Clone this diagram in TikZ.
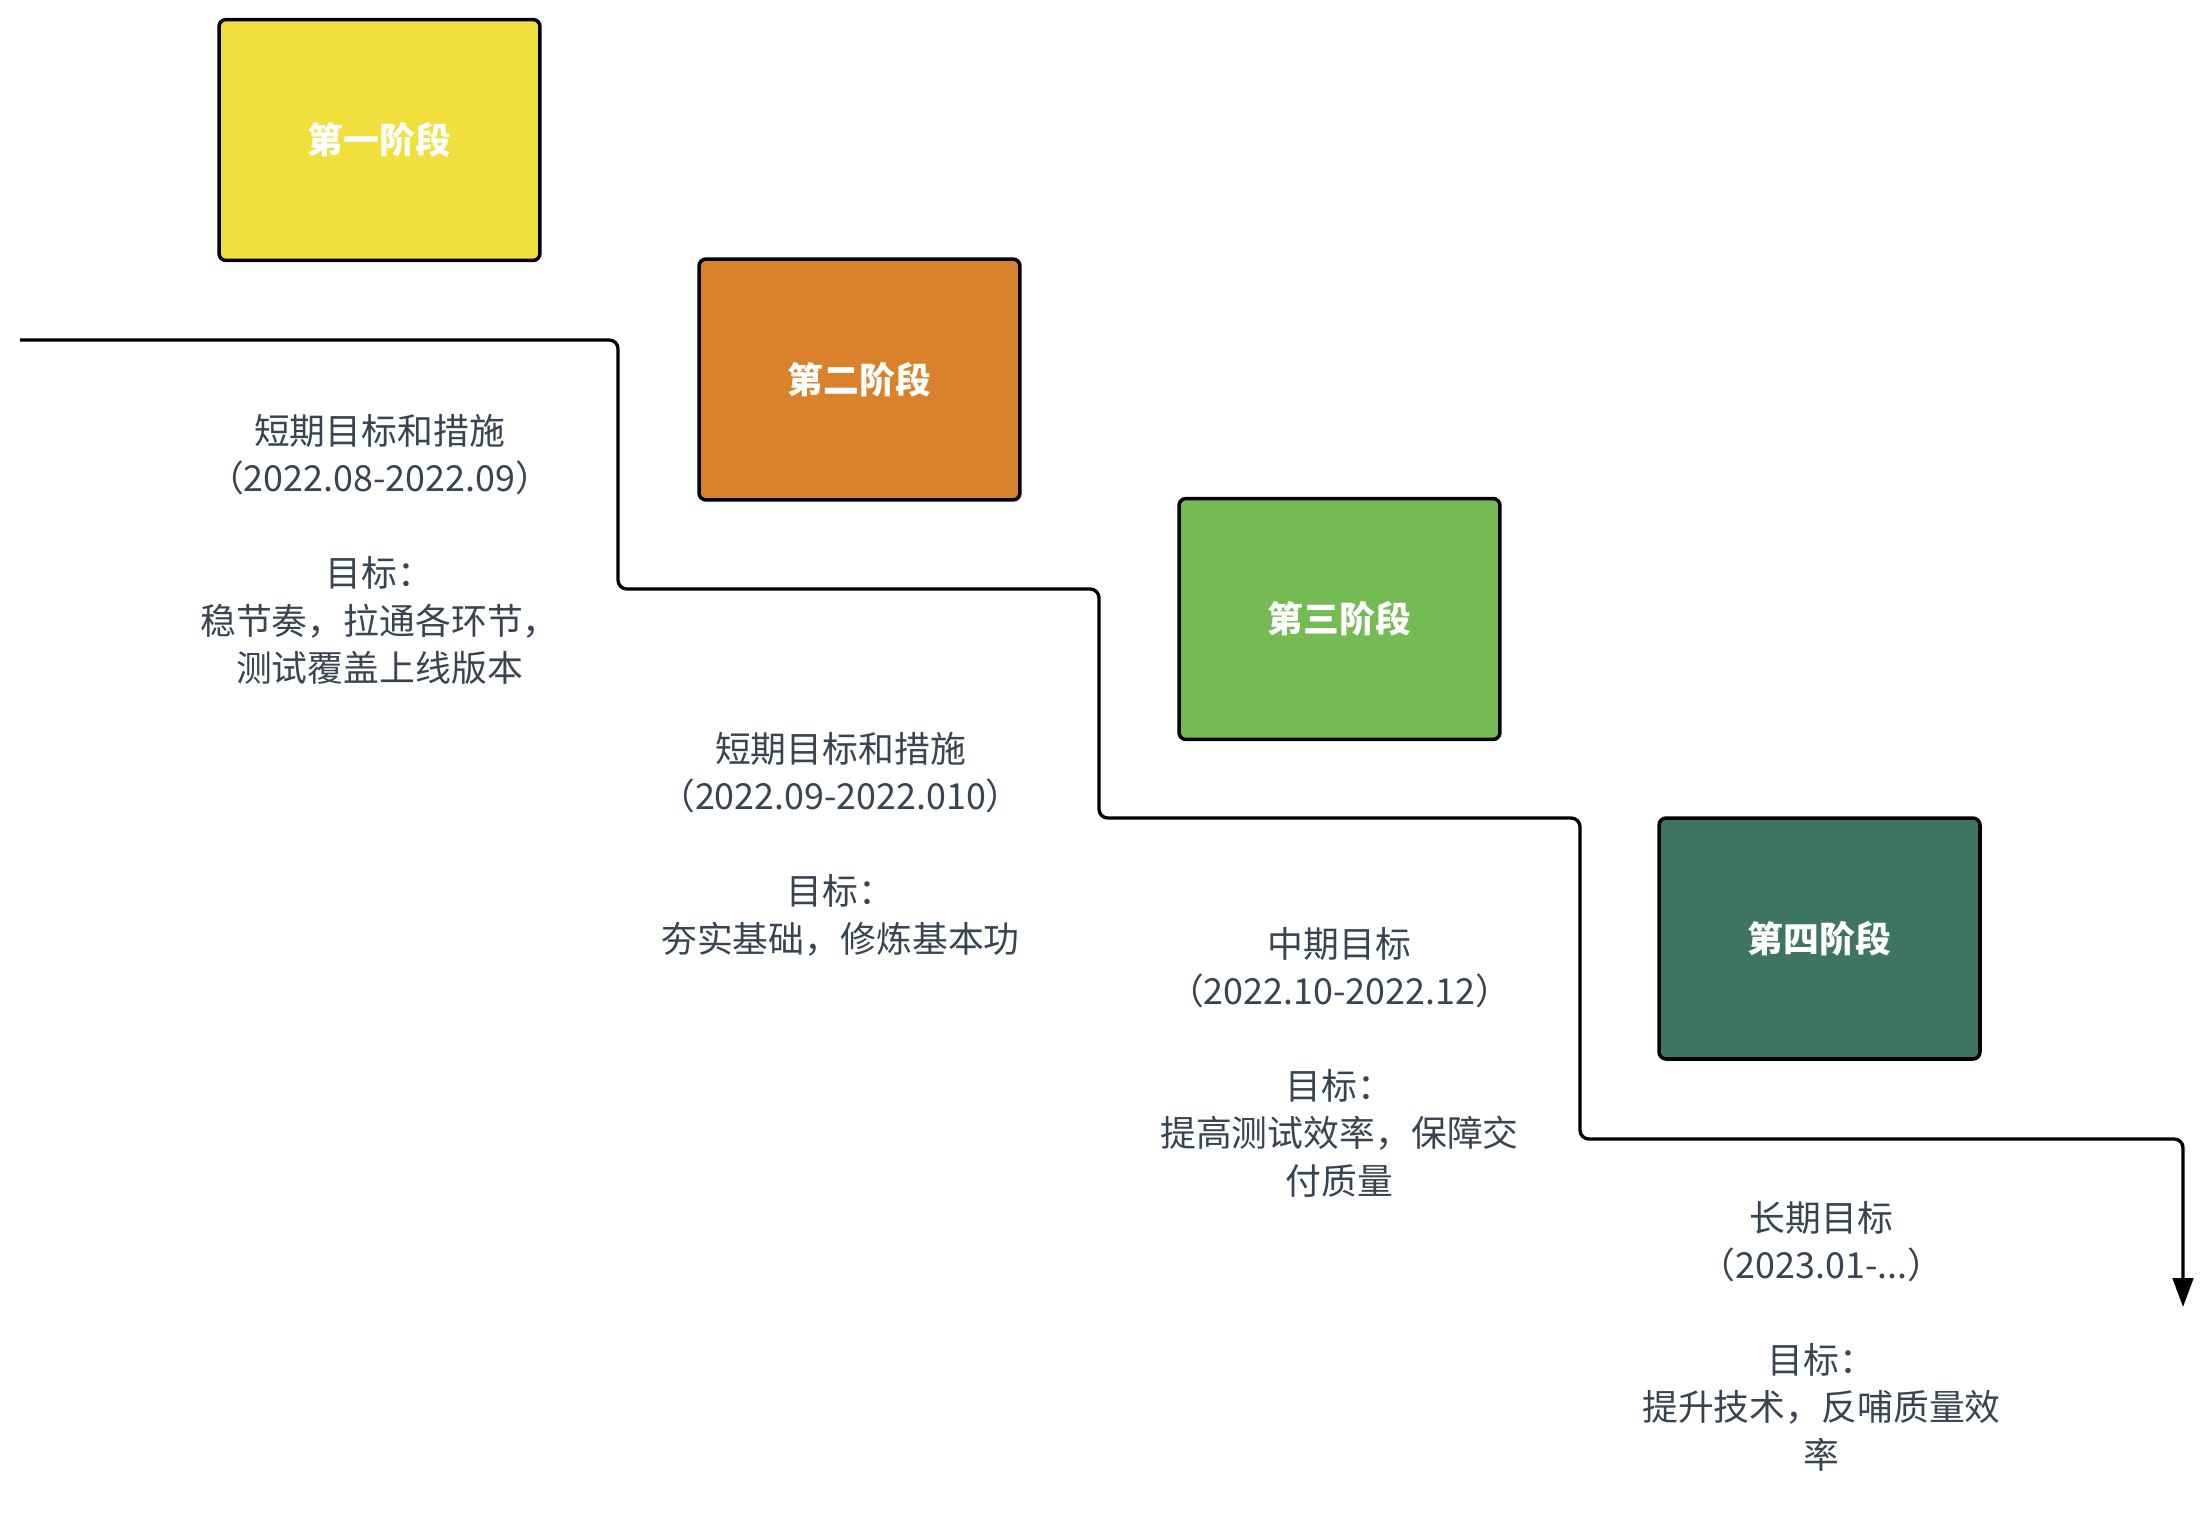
\documentclass[tikz,border=0pt]{standalone}
\usepackage{fontspec}
\setmainfont{Noto Sans CJK SC}
\usetikzlibrary{arrows.meta}

\definecolor{stageone}{HTML}{F1DF3D}
\definecolor{stagetwo}{HTML}{D9822B}
\definecolor{stagethree}{HTML}{73BB52}
\definecolor{stagefour}{HTML}{3E7562}
\definecolor{goaltext}{HTML}{394452}

\begin{document}
\begin{tikzpicture}[%
    x=0.02cm, y=-0.02cm,                   % one unit per pixel, y going down
    >={Triangle[length=5.8mm,width=4.1mm]},% Solid arrow head at the end
    every node/.style={font=\fontsize{20.4pt}{27pt}\selectfont},
    ]
% -------------------------------------------------
% Box and line styles
\tikzset{
  stage/.style={draw, line width=2pt, rounded corners=4pt,
    minimum width=6.42cm, minimum height=4.82cm,
    text=white, font=\fontsize{20.4pt}{27pt}\selectfont\bfseries},
  goal/.style={align=center, text=goaltext},
  stair/.style={->, draw, line width=1.9pt, rounded corners=5pt},
}
\useasboundingbox (0,0) rectangle (2204,1512);
% -------------------------------------------------
% The four stages
\node [stage, fill=stageone]   (st1) at (379.5,140)   {第一阶段};
\node [stage, fill=stagetwo]   (st2) at (859.5,379.5) {第二阶段};
\node [stage, fill=stagethree] (st3) at (1339.5,619)  {第三阶段};
\node [stage, fill=stagefour]  (st4) at (1819.5,938.5){第四阶段};
% -------------------------------------------------
% Goals under each step
\node [goal] (g1) at (379.5,549.5)
  {短期目标和措施\\（2022.08-2022.09）\\[27pt]目标：\\稳节奏，拉通各环节，\\测试覆盖上线版本};
\node [goal] (g2) at (840.5,844)
  {短期目标和措施\\（2022.09-2022.010）\\[27pt]目标：\\夯实基础，修炼基本功};
\node [goal] (g3) at (1339.5,1062)
  {中期目标\\（2022.10-2022.12）\\[27pt]目标：\\提高测试效率，保障交\\付质量};
\node [goal] (g4) at (1821.5,1336)
  {长期目标\\（2023.01-...）\\[27pt]目标：\\提升技术，反哺质量效\\率};
% -------------------------------------------------
% The stair line
\coordinate (s0) at (20,340);
\coordinate (s1) at (618,340);
\coordinate (s2) at (618,589);
\coordinate (s3) at (1099,589);
\coordinate (s4) at (1099,818);
\coordinate (s5) at (1580,818);
\coordinate (s6) at (1580,1139);
\coordinate (s7) at (2183,1139);
\coordinate (s8) at (2183,1307);
\path [stair] (s0) -- (s1) -- (s2) -- (s3) -- (s4) -- (s5) -- (s6) -- (s7) -- (s8);
% -------------------------------------------------
\end{tikzpicture}
\end{document}
